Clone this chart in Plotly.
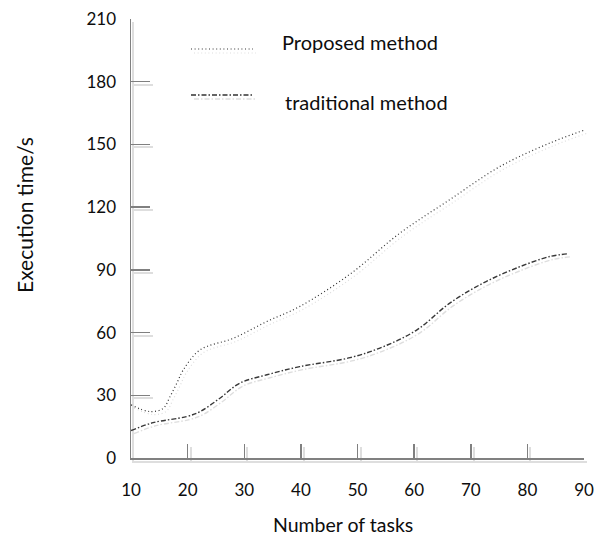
import plotly.graph_objects as go

# ---- data ----
proposed_x = [10, 13.4, 15.7, 16.9, 18.1, 19.2, 22.2, 28.1, 34, 39.8, 48.7, 57.5, 66.3, 75.2, 84, 90]
proposed_y = [25.4, 22.2, 23.8, 29.4, 35.8, 42, 51.7, 57.3, 65.3, 72.5, 88, 107.6, 123.6, 139.5, 150.7, 156.8]

traditional_x = [10, 13.9, 19.8, 22.2, 25.7, 29.2, 34, 39.8, 48.7, 54.6, 60.5, 66.3, 72.2, 78.1, 84, 87.2]
traditional_y = [13.1, 16.9, 19.8, 22.2, 28.6, 35.8, 39.8, 43.7, 48, 53.3, 61.3, 74.1, 83.7, 90.9, 96.4, 97.7]

x_ticks = [10, 20, 30, 40, 50, 60, 70, 80, 90]
y_ticks = [0, 30, 60, 90, 120, 150, 180, 210]

series_names = ["Proposed method", "traditional method"]
x_title = "Number of tasks"
y_title = "Execution time/s"

# ---- styling ----
FONT = "Lato, Carlito, 'Open Sans', sans-serif"
TXT = "#0d0d0d"
DARK1 = "#333333"
DARK2 = "#383838"
SHADOW = "#dedede"
AXIS = "#808080"
DOT = "1px,2.6px"
DASHDOT = "5px,2px,1.5px,2px"

W, H = 595, 535
L, R, T, B = 131, 8, 19, 74
pw, ph = W - L - R, H - T - B
dx, dy = 3 / pw, 3 / ph

fig = go.Figure()

# shadow copies (first axis pair, underneath)
fig.add_trace(go.Scatter(x=proposed_x, y=proposed_y, mode="lines", xaxis="x", yaxis="y",
                         line=dict(color=SHADOW, width=1.2, dash=DOT, shape="spline", smoothing=1.0),
                         showlegend=False, hoverinfo="skip"))
fig.add_trace(go.Scatter(x=traditional_x, y=traditional_y, mode="lines", xaxis="x", yaxis="y",
                         line=dict(color=SHADOW, width=1.4, dash=DASHDOT, shape="spline", smoothing=1.0),
                         showlegend=False, hoverinfo="skip"))
# main lines
fig.add_trace(go.Scatter(x=proposed_x, y=proposed_y, mode="lines", xaxis="x2", yaxis="y2",
                         name=series_names[0],
                         line=dict(color=DARK1, width=1.2, dash=DOT, shape="spline", smoothing=1.0),
                         showlegend=False))
fig.add_trace(go.Scatter(x=traditional_x, y=traditional_y, mode="lines", xaxis="x2", yaxis="y2",
                         name=series_names[1],
                         line=dict(color=DARK2, width=1.4, dash=DASHDOT, shape="spline", smoothing=1.0),
                         showlegend=False))

common_x = dict(range=[10, 90], tickmode="array", tickvals=x_ticks, showgrid=False, zeroline=False,
                ticks="inside", ticklen=14, showline=True, fixedrange=True)
common_y = dict(range=[0, 210], tickmode="array", tickvals=y_ticks, showgrid=False, zeroline=False,
                ticks="inside", ticklen=19, showline=True, fixedrange=True)

fig.update_layout(
    width=W, height=H,
    margin=dict(l=L, r=R, t=T, b=B, autoexpand=False),
    paper_bgcolor="white", plot_bgcolor="rgba(0,0,0,0)",
    font=dict(family=FONT, size=16, color=TXT),
    showlegend=False,
    xaxis=dict(domain=[dx, 1], anchor="y", showticklabels=False,
               linecolor=SHADOW, linewidth=2, tickcolor=SHADOW, tickwidth=2, **common_x),
    yaxis=dict(domain=[0, 1 - dy], anchor="x", showticklabels=False,
               linecolor=SHADOW, linewidth=2, tickcolor=SHADOW, tickwidth=2, **common_y),
    xaxis2=dict(domain=[0, 1 - dx], anchor="y2", showticklabels=True,
                ticktext=[str(v) for v in x_ticks],
                tickfont=dict(family=FONT, size=17, color=TXT),
                ticklabelstandoff=16,
                linecolor=AXIS, linewidth=1.5, tickcolor=AXIS, tickwidth=1.5, **common_x),
    yaxis2=dict(domain=[dy, 1], anchor="x2", showticklabels=True,
                tickfont=dict(family=FONT, size=17, color=TXT),
                ticklabelstandoff=10,
                linecolor=AXIS, linewidth=1.5, tickcolor=AXIS, tickwidth=1.5, **common_y),
)

def px_x(p):
    return (p - L) / pw

def px_y(p):
    return (H - B - p) / ph

# axis titles
fig.add_annotation(text=y_title, xref="paper", yref="paper", x=px_x(24), y=px_y(215),
                   textangle=-90, showarrow=False, xanchor="center", yanchor="middle",
                   font=dict(family=FONT, size=21, color=TXT))
fig.add_annotation(text=x_title, xref="paper", yref="paper", x=px_x(343), y=px_y(524),
                   showarrow=False, xanchor="center", yanchor="middle",
                   font=dict(family=FONT, size=19.5, color=TXT))

# custom legend
legend_rows = [(series_names[0], DOT, 1.2, 49, 42, 280), (series_names[1], DASHDOT, 1.4, 95, 102, 283)]
for name, dash, w, ly, ty, tx in legend_rows:
    fig.add_shape(type="line", xref="paper", yref="paper",
                  x0=px_x(194), x1=px_x(256), y0=px_y(ly + 4), y1=px_y(ly + 4),
                  line=dict(color=SHADOW, width=w, dash=dash))
    fig.add_shape(type="line", xref="paper", yref="paper",
                  x0=px_x(191), x1=px_x(253), y0=px_y(ly), y1=px_y(ly),
                  line=dict(color=DARK1, width=w, dash=dash))
    fig.add_annotation(text=name, xref="paper", yref="paper", x=px_x(tx), y=px_y(ty),
                       showarrow=False, xanchor="left", yanchor="middle",
                       font=dict(family=FONT, size=20, color=TXT))

fig.write_html(
    "out.html",
    config={"displayModeBar": False, "staticPlot": True},
    post_script="document.body.style.margin='0';document.body.style.overflow='hidden';",
)
